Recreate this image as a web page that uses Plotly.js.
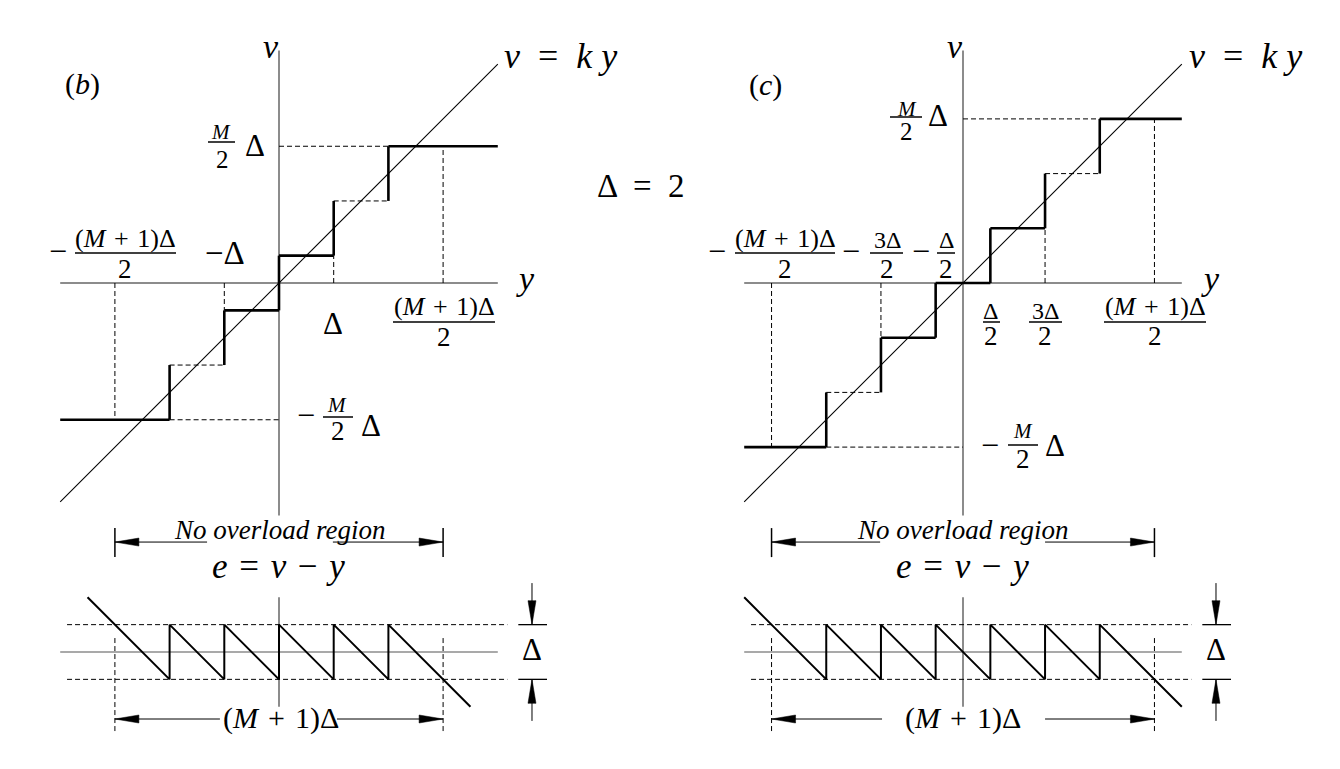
<!DOCTYPE html>
<html><head><meta charset="utf-8">
<script src="https://cdn.plot.ly/plotly-3.0.1.min.js"></script>
<style>
html,body{margin:0;padding:0;background:#fff}
#chart svg text{font-family:"Liberation Serif",serif !important}
</style>
</head><body><div id="chart" style="width:1340px;height:769px"></div>
<script>
// ---------------- DATA (units with Δ = 2) ----------------
const DELTA = 2;
const K = 1;                       // slope of v = k y
const M_b = 5;
const M_c = 6;
// panel (b): decision thresholds on y, output levels on v
const thresholdsB = [-4, -2, 0, 2, 4];
const levelsB = [-5, -3, -1, 1, 3, 5];
const dashedLevelB = [false, true, false, false, true, false];
const dropGuidesB = [[-2, -1], [2, 1]];       // dashed drops (y, v)
// panel (c)
const thresholdsC = [-5, -3, -1, 1, 3, 5];
const levelsC = [-6, -4, -2, 0, 2, 4, 6];
const dashedLevelC = [false, true, false, false, false, true, false];
const dropGuidesC = [[-3, -2], [3, 2]];
// spans of the curves
const inputSpan = [-8, 8];
const vAxisSpan = [-8.5, 8.5];
const errorSpanB = [-7, 7];
const errorSpanC = [-8, 8];
const eAxisSpan = [-2, 2];
const eGuideSpan = [-7.75, 8.35];

// ---------------- GEOMETRY / STYLE ----------------
const W = 1340, H = 769, S = 27.35;   // px per unit
const SERIF = 'Liberation Serif';
const OB = {x: 279, yTop: 283, yBot: 652};
const OC = {x: 963, yTop: 283, yBot: 652};
const SPLIT = 520;
const AX = '#666';
const DASH = '5px,3px';
const HS = '\u200A';   // hair space

const traces = [];
function line(x, y, xa, ya, opt) {
  traces.push(Object.assign({type: 'scatter', mode: 'lines', x, y, xaxis: xa, yaxis: ya,
    hoverinfo: 'skip', showlegend: false, line: {color: '#000', width: 1}}, opt || {}));
}
function arrowHead(tx, ty, dx, dy, xa, ya) {
  const L = 24 / S, Wd = 4 / S;
  const px = -dy, py = dx;
  traces.push({type: 'scatter', mode: 'lines', xaxis: xa, yaxis: ya, hoverinfo: 'skip', showlegend: false,
    x: [tx, tx - dx * L + px * Wd, tx - dx * L - px * Wd, tx],
    y: [ty, ty - dy * L + py * Wd, ty - dy * L - py * Wd, ty],
    fill: 'toself', fillcolor: '#000', line: {color: '#000', width: 0.5}});
}

function panel(th, lv, dashedLv, drops, M, eSpan, xa, yTop, yBot, gapNo, gapM) {
  const ov = (M + 1) * DELTA / 2;
  const top = lv[lv.length - 1], bot = lv[0];
  line(inputSpan, [0, 0], xa, yTop, {line: {color: AX, width: 1.5}});
  line([0, 0], vAxisSpan, xa, yTop, {line: {color: AX, width: 1.5}});
  const gx = [], gy = [];
  function seg(x0, y0, x1, y1) { gx.push(x0, x1, null); gy.push(y0, y1, null); }
  seg(0, top, th[th.length - 1], top);
  seg(th[0], bot, 0, bot);
  seg(ov, 0, ov, top);
  seg(-ov, 0, -ov, bot);
  drops.forEach(d => seg(d[0], 0, d[0], d[1]));
  const sx = [], sy = [];
  const n = lv.length;
  for (let i = 0; i < n; i++) {
    const x0 = i === 0 ? inputSpan[0] : th[i - 1];
    const x1 = i === n - 1 ? inputSpan[1] : th[i];
    if (dashedLv[i]) seg(x0, lv[i], x1, lv[i]);
    else { sx.push(x0, x1, null); sy.push(lv[i], lv[i], null); }
  }
  for (let i = 0; i < th.length; i++) { sx.push(th[i], th[i], null); sy.push(lv[i], lv[i + 1], null); }
  line(gx, gy, xa, yTop, {line: {color: '#000', width: 1, dash: DASH}});
  line(inputSpan, inputSpan.map(v => K * v), xa, yTop, {line: {color: '#000', width: 1.1}});
  line(sx, sy, xa, yTop, {line: {color: '#000', width: 2.6}});

  // ---- error e = v - y ----
  line(inputSpan, [0, 0], xa, yBot, {line: {color: '#555', width: 1.2}});
  line([0, 0], eAxisSpan, xa, yBot, {line: {color: AX, width: 1.5}});
  const ex = [], ey = [];
  [DELTA / 2, -DELTA / 2].forEach(e => { ex.push(eGuideSpan[0], eGuideSpan[1], null); ey.push(e, e, null); });
  [-ov, ov].forEach(x => { ex.push(x, x, null); ey.push(0.51, -2.93, null); });
  line(ex, ey, xa, yBot, {line: {color: '#000', width: 1, dash: DASH}});
  const wx = [eSpan[0]], wy = [lv[0] - eSpan[0]];
  let k = 0;
  th.forEach((t, i) => {
    if (t > eSpan[0] && t < eSpan[1]) { wx.push(t, t); wy.push(lv[i] - t, lv[i + 1] - t); }
    if (t < eSpan[1]) k = i + 1;
  });
  wx.push(eSpan[1]); wy.push(lv[k] - eSpan[1]);
  line(wx, wy, xa, yBot, {line: {color: '#000', width: 2}});

  const eNo = 4.02, eM = -2.45;
  line([-ov, gapNo[0], null, gapNo[1], ov], [eNo, eNo, null, eNo, eNo], xa, yBot);
  line([-ov, -ov, null, ov, ov], [4.53, 3.47, null, 4.53, 3.47], xa, yBot, {line: {color: '#000', width: 1.5}});
  arrowHead(-ov, eNo, -1, 0, xa, yBot); arrowHead(ov, eNo, 1, 0, xa, yBot);
  line([-ov, gapM[0], null, gapM[1], ov], [eM, eM, null, eM, eM], xa, yBot);
  arrowHead(-ov, eM, -1, 0, xa, yBot); arrowHead(ov, eM, 1, 0, xa, yBot);
  const xd = 9.25;
  line([8.75, 9.8, null, 8.75, 9.8], [DELTA / 2, DELTA / 2, null, -DELTA / 2, -DELTA / 2], xa, yBot, {line: {color: '#000', width: 1.3}});
  line([xd, xd, null, xd, xd], [2.52, DELTA / 2, null, -2.52, -DELTA / 2], xa, yBot);
  arrowHead(xd, DELTA / 2, 0, -1, xa, yBot); arrowHead(xd, -DELTA / 2, 0, 1, xa, yBot);
}

panel(thresholdsB, levelsB, dashedLevelB, dropGuidesB, M_b, errorSpanB, 'x', 'y', 'y3', [-2.63, 1.97], [-2.16, 2.12]);
panel(thresholdsC, levelsC, dashedLevelC, dropGuidesC, M_c, errorSpanC, 'x2', 'y2', 'y4', [-3.03, 3.0], [-2.96, 3.0]);

// ---------------- TEXT ----------------
const ann = [], shapes = [];
function T(text, x, y, size) {
  ann.push({text, x: x / W, y: 1 - y / H, xref: 'paper', yref: 'paper', showarrow: false,
    xanchor: 'center', yanchor: 'middle', font: {family: SERIF, size: size, color: '#000'}});
}
function BAR(x0, x1, y) {
  shapes.push({type: 'line', xref: 'paper', yref: 'paper', x0: x0 / W, x1: x1 / W, y0: 1 - y / H, y1: 1 - y / H,
    line: {color: '#000', width: 1.5}});
}
const NUM = '(<i>M</i>' + HS + ' + ' + HS + '1)Δ';
const EQ_E = '<i>e</i> ' + HS + '= ' + HS + '<i>v</i> ' + HS + '− ' + HS + '<i>y</i>';
const EQ_V = '<i>v</i>  =  <i>k y</i>';
const DIM = '(<i>M</i> ' + HS + '+ ' + HS + '1)Δ';
// panel (b)
T('(<i>b</i>)', 82, 84, 30);
T('<i>v</i>', 271, 46.5, 34);
T(EQ_V, 560, 56, 36);
T('<i>y</i>', 525, 279, 34);
T('−Δ', 225, 253, 33);
T('Δ', 333, 323, 31);
T('−', 57.5, 250.5, 32); T(NUM, 125, 238, 26); BAR(75, 176, 253); T('2', 125, 268.6, 27);
T('<i>M</i>', 221, 132, 21); BAR(208, 235, 142); T('2', 222, 159, 25); T('Δ', 255, 145, 31);
T(NUM, 444, 306, 26); BAR(393, 495, 322); T('2', 444, 336.6, 27);
T('−', 306, 415, 32); T('<i>M</i>', 337, 405, 21); BAR(323, 353, 417); T('2', 338, 431, 27); T('Δ', 371, 425, 31);
T('Δ  =  2', 641, 186, 33);
T('<i>No overload region</i>', 279, 530, 27);
T(EQ_E, 278, 566.5, 35);
T(DIM, 281, 718, 30);
T('Δ', 532, 649, 31);
// panel (c)
T('(<i>c</i>)', 765, 85, 30);
T('<i>v</i>', 955, 46.5, 34);
T(EQ_V, 1245, 56, 36);
T('<i>y</i>', 1210, 278, 34);
T('<i>M</i>', 907, 109, 21); BAR(890, 922, 117); T('2', 906, 132, 25); T('Δ', 938, 115, 31);
T('−', 717, 250.5, 32); T(NUM, 785, 238, 26); BAR(735, 835, 253); T('2', 785, 268.6, 27);
T('−', 851, 250.5, 32); T('3Δ', 887, 239.6, 24); BAR(870, 903, 253); T('2', 887, 268.6, 27);
T('−', 921, 250.5, 32); T('Δ', 946, 239.6, 24); BAR(937, 955, 253); T('2', 946, 268.6, 27);
T('Δ', 991, 310.6, 24); BAR(983, 1000, 322); T('2', 991, 336.5, 27);
T('3Δ', 1045, 310.6, 24); BAR(1029, 1062, 322); T('2', 1045, 336.5, 27);
T(NUM, 1155, 306, 26); BAR(1104, 1206, 322); T('2', 1155, 336, 27);
T('−', 990, 444.5, 32); T('<i>M</i>', 1023, 431, 21); BAR(1008, 1038, 445); T('2', 1023, 459, 27); T('Δ', 1055, 445.6, 31);
T('<i>No overload region</i>', 962, 530, 27);
T(EQ_E, 962, 566, 35);
T(DIM, 963, 718, 30);
T('Δ', 1216, 649, 31);

// ---------------- AXES ----------------
function ax(domain, range, anchor) {
  return {domain, range, anchor, visible: false, showgrid: false, zeroline: false, fixedrange: true};
}
const topDom = [1 - SPLIT / H, 1], botDom = [0, 1 - SPLIT / H];
const layout = {
  width: W, height: H, margin: {l: 0, r: 0, t: 0, b: 0},
  paper_bgcolor: '#fff', plot_bgcolor: 'rgba(0,0,0,0)', showlegend: false,
  xaxis: ax([0, 670 / W], [(0 - OB.x) / S, (670 - OB.x) / S], 'y'),
  xaxis2: ax([670 / W, 1], [(670 - OC.x) / S, (W - OC.x) / S], 'y2'),
  yaxis: ax(topDom, [(OB.yTop - SPLIT) / S, OB.yTop / S], 'x'),
  yaxis2: ax(topDom, [(OC.yTop - SPLIT) / S, OC.yTop / S], 'x2'),
  yaxis3: ax(botDom, [(OB.yBot - H) / S, (OB.yBot - SPLIT) / S], 'x'),
  yaxis4: ax(botDom, [(OC.yBot - H) / S, (OC.yBot - SPLIT) / S], 'x2'),
  annotations: ann, shapes
};
Plotly.newPlot('chart', traces, layout, {displayModeBar: false});
</script></body></html>
